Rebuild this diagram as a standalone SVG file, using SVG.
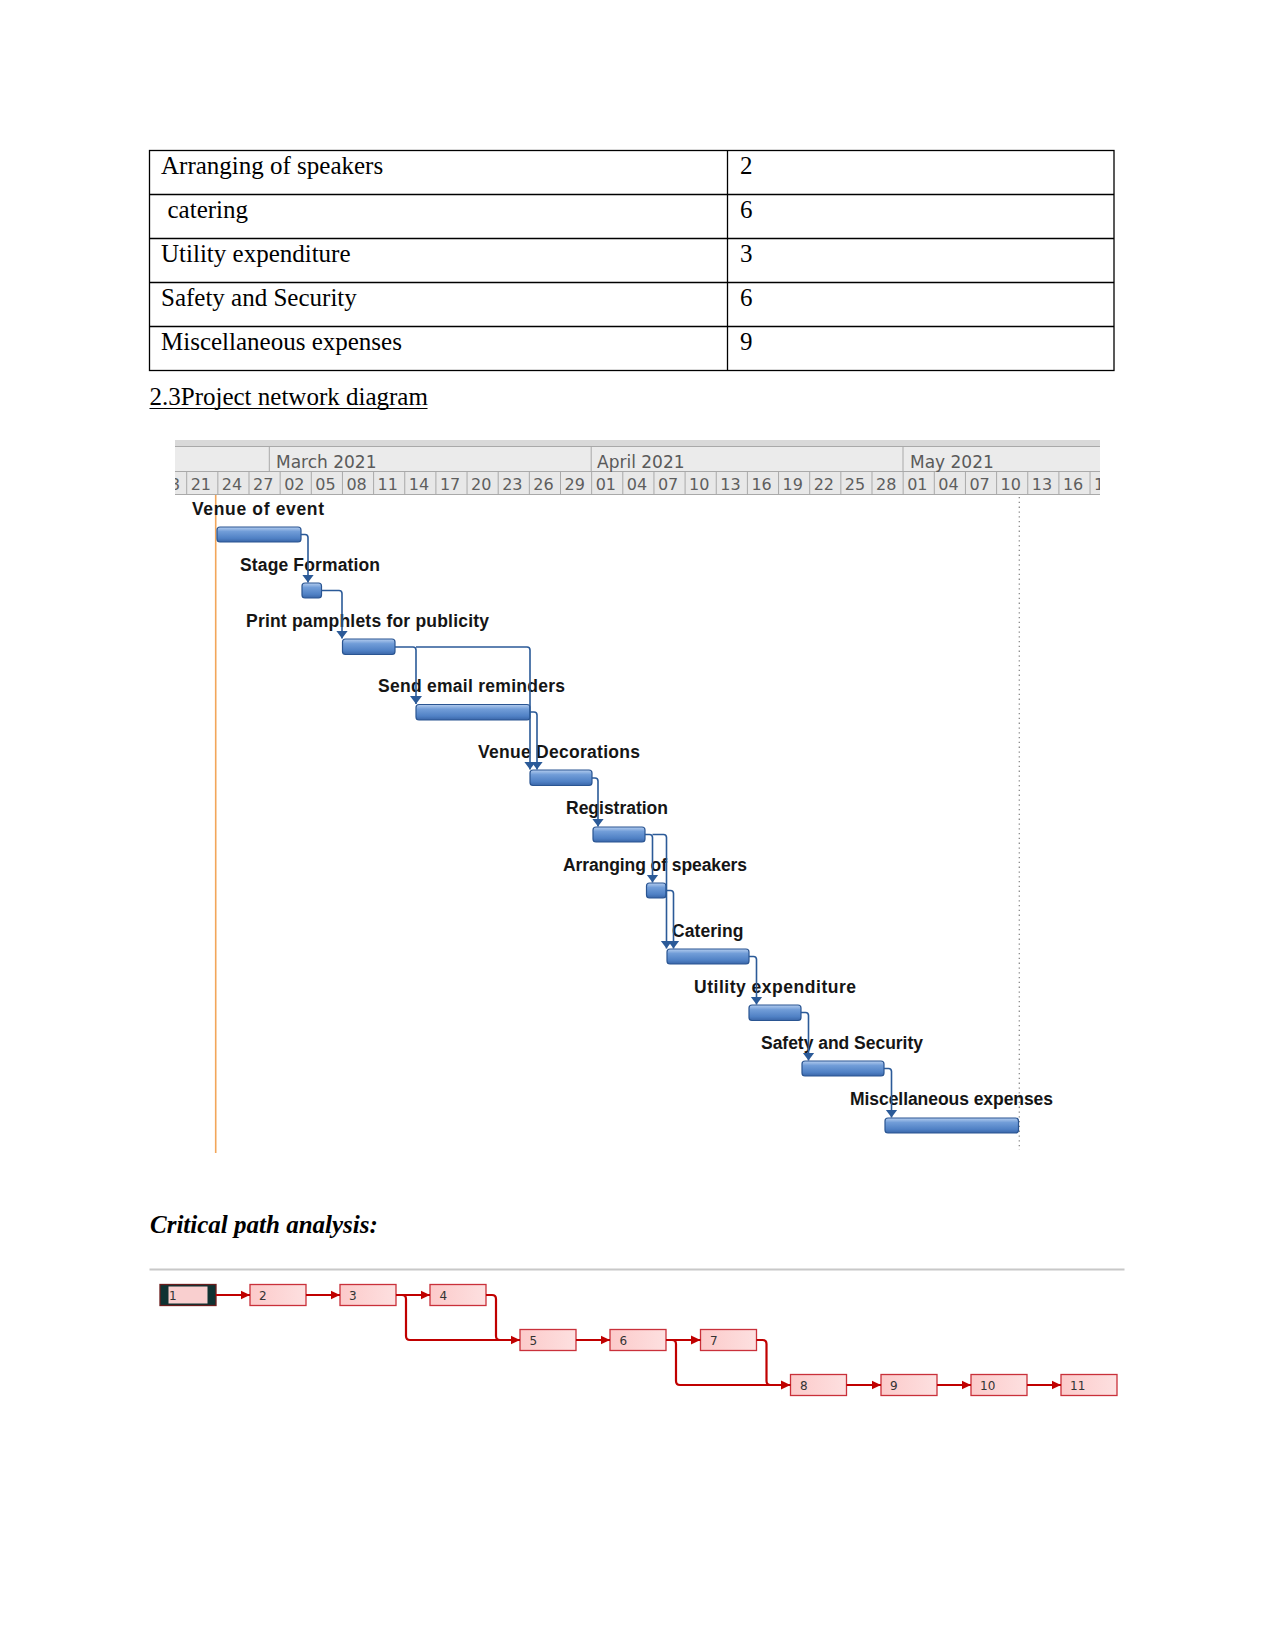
<svg xmlns="http://www.w3.org/2000/svg" width="1275" height="1651" viewBox="0 0 1275 1651">
<style>
.tt{font-family:"Liberation Serif","Times New Roman",serif;font-size:25px;fill:#000}
.tl{stroke:#000;stroke-width:1.3;fill:none}
.hd{font-family:"DejaVu Sans","Liberation Sans",sans-serif;font-size:16px;fill:#5e5e5e}
.hm{font-family:"DejaVu Sans","Liberation Sans",sans-serif;font-size:17px;fill:#5a5a5a}
.hl{stroke:#a9a9a9;stroke-width:1}
.gl{font-family:"Liberation Sans",Arial,sans-serif;font-size:17.5px;font-weight:bold;fill:#151515}
.bar{fill:url(#barG);stroke:#2a5592;stroke-width:1.2}
.gc{fill:none;stroke:#2b5a98;stroke-width:1.6}
.cb{fill:url(#boxG);stroke:#c9303a;stroke-width:1.3}
.cl{font-family:"DejaVu Sans","Liberation Sans",sans-serif;font-size:12px;fill:#333}
.cc{fill:none;stroke:#c00000;stroke-width:2.2}
</style>
<defs>
<linearGradient id="barG" x1="0" y1="0" x2="0" y2="1">
<stop offset="0" stop-color="#b4cdef"/>
<stop offset="0.3" stop-color="#719dd8"/>
<stop offset="0.75" stop-color="#5081c5"/>
<stop offset="1" stop-color="#3a66a8"/>
</linearGradient>
<linearGradient id="boxG" x1="0" y1="0" x2="1" y2="0">
<stop offset="0" stop-color="#fccaca"/>
<stop offset="1" stop-color="#fde0e0"/>
</linearGradient>
<marker id="ga" markerUnits="userSpaceOnUse" viewBox="0 -7 9 14" markerWidth="9" markerHeight="14" refX="8" refY="0" orient="auto">
<path d="M0,-6 L8,0 L0,6 z" fill="#2b5a98"/>
</marker>
<marker id="ra" markerUnits="userSpaceOnUse" viewBox="0 -5 10 10" markerWidth="10" markerHeight="10" refX="9.5" refY="0" orient="auto">
<path d="M0,-4.5 L9.5,0 L0,4.5 z" fill="#c00000"/>
</marker>
<clipPath id="hc"><rect x="175" y="438" width="925" height="60"/></clipPath>
</defs>
<rect width="1275" height="1651" fill="#fff"/>

<!-- Table -->
<g id="table">
<rect class="tl" x="149.5" y="150.5" width="964.5" height="220"/>
<line class="tl" x1="727.5" y1="150.5" x2="727.5" y2="370.5"/>
<line class="tl" x1="149.5" y1="194.5" x2="1114" y2="194.5"/>
<line class="tl" x1="149.5" y1="238.5" x2="1114" y2="238.5"/>
<line class="tl" x1="149.5" y1="282.5" x2="1114" y2="282.5"/>
<line class="tl" x1="149.5" y1="326.5" x2="1114" y2="326.5"/>
<text class="tt" x="161" y="173.5">Arranging of speakers</text>
<text class="tt" x="740" y="173.5">2</text>
<text class="tt" x="167.5" y="217.5">catering</text>
<text class="tt" x="740" y="217.5">6</text>
<text class="tt" x="161" y="261.5">Utility expenditure</text>
<text class="tt" x="740" y="261.5">3</text>
<text class="tt" x="161" y="305.5">Safety and Security</text>
<text class="tt" x="740" y="305.5">6</text>
<text class="tt" x="161" y="349.5">Miscellaneous expenses</text>
<text class="tt" x="740" y="349.5">9</text>
</g>

<g id="heading">
<text class="tt" x="149.5" y="405">2.3Project network diagram</text>
<line x1="149.5" y1="408.5" x2="427.5" y2="408.5" stroke="#000" stroke-width="1.2"/>
</g>

<!-- Gantt header -->
<g id="gantt-header" clip-path="url(#hc)">
<rect x="175" y="440" width="925" height="6" fill="#d9d9d9"/>
<rect x="175" y="446" width="925" height="25" fill="#ebebeb"/>
<rect x="175" y="471" width="925" height="23.5" fill="#e8e8e8"/>
<line class="hl" x1="175" y1="446.5" x2="1100" y2="446.5" stroke="#a0a0a0"/>
<line class="hl" x1="175" y1="471.5" x2="1100" y2="471.5"/>
<line class="hl" x1="175" y1="494.5" x2="1100" y2="494.5"/>
<line class="hl" x1="269.3" y1="446.5" x2="269.3" y2="471.5"/>
<line class="hl" x1="591.2" y1="446.5" x2="591.2" y2="471.5"/>
<line class="hl" x1="903" y1="446.5" x2="903" y2="471.5"/>
<text class="hm" x="276" y="467.5">March 2021</text>
<text class="hm" x="597" y="467.5">April 2021</text>
<text class="hm" x="910" y="467.5">May 2021</text>
<g>
<line class="hl" x1="186.7" y1="471.5" x2="186.7" y2="494.5"/>
<line class="hl" x1="217.85" y1="471.5" x2="217.85" y2="494.5"/>
<line class="hl" x1="249" y1="471.5" x2="249" y2="494.5"/>
<line class="hl" x1="280.15" y1="471.5" x2="280.15" y2="494.5"/>
<line class="hl" x1="311.3" y1="471.5" x2="311.3" y2="494.5"/>
<line class="hl" x1="342.45" y1="471.5" x2="342.45" y2="494.5"/>
<line class="hl" x1="373.6" y1="471.5" x2="373.6" y2="494.5"/>
<line class="hl" x1="404.75" y1="471.5" x2="404.75" y2="494.5"/>
<line class="hl" x1="435.9" y1="471.5" x2="435.9" y2="494.5"/>
<line class="hl" x1="467.05" y1="471.5" x2="467.05" y2="494.5"/>
<line class="hl" x1="498.2" y1="471.5" x2="498.2" y2="494.5"/>
<line class="hl" x1="529.35" y1="471.5" x2="529.35" y2="494.5"/>
<line class="hl" x1="560.5" y1="471.5" x2="560.5" y2="494.5"/>
<line class="hl" x1="591.65" y1="471.5" x2="591.65" y2="494.5"/>
<line class="hl" x1="622.8" y1="471.5" x2="622.8" y2="494.5"/>
<line class="hl" x1="653.95" y1="471.5" x2="653.95" y2="494.5"/>
<line class="hl" x1="685.1" y1="471.5" x2="685.1" y2="494.5"/>
<line class="hl" x1="716.25" y1="471.5" x2="716.25" y2="494.5"/>
<line class="hl" x1="747.4" y1="471.5" x2="747.4" y2="494.5"/>
<line class="hl" x1="778.55" y1="471.5" x2="778.55" y2="494.5"/>
<line class="hl" x1="809.7" y1="471.5" x2="809.7" y2="494.5"/>
<line class="hl" x1="840.85" y1="471.5" x2="840.85" y2="494.5"/>
<line class="hl" x1="872" y1="471.5" x2="872" y2="494.5"/>
<line class="hl" x1="903.15" y1="471.5" x2="903.15" y2="494.5"/>
<line class="hl" x1="934.3" y1="471.5" x2="934.3" y2="494.5"/>
<line class="hl" x1="965.45" y1="471.5" x2="965.45" y2="494.5"/>
<line class="hl" x1="996.6" y1="471.5" x2="996.6" y2="494.5"/>
<line class="hl" x1="1027.75" y1="471.5" x2="1027.75" y2="494.5"/>
<line class="hl" x1="1058.9" y1="471.5" x2="1058.9" y2="494.5"/>
<line class="hl" x1="1090.05" y1="471.5" x2="1090.05" y2="494.5"/>
</g>
<g>
<text class="hd" x="159.6" y="490">18</text>
<text class="hd" x="190.7" y="490">21</text>
<text class="hd" x="221.85" y="490">24</text>
<text class="hd" x="253" y="490">27</text>
<text class="hd" x="284.15" y="490">02</text>
<text class="hd" x="315.3" y="490">05</text>
<text class="hd" x="346.45" y="490">08</text>
<text class="hd" x="377.6" y="490">11</text>
<text class="hd" x="408.75" y="490">14</text>
<text class="hd" x="439.9" y="490">17</text>
<text class="hd" x="471.05" y="490">20</text>
<text class="hd" x="502.2" y="490">23</text>
<text class="hd" x="533.35" y="490">26</text>
<text class="hd" x="564.5" y="490">29</text>
<text class="hd" x="595.65" y="490">01</text>
<text class="hd" x="626.8" y="490">04</text>
<text class="hd" x="657.95" y="490">07</text>
<text class="hd" x="689.1" y="490">10</text>
<text class="hd" x="720.25" y="490">13</text>
<text class="hd" x="751.4" y="490">16</text>
<text class="hd" x="782.55" y="490">19</text>
<text class="hd" x="813.7" y="490">22</text>
<text class="hd" x="844.85" y="490">25</text>
<text class="hd" x="876" y="490">28</text>
<text class="hd" x="907.15" y="490">01</text>
<text class="hd" x="938.3" y="490">04</text>
<text class="hd" x="969.45" y="490">07</text>
<text class="hd" x="1000.6" y="490">10</text>
<text class="hd" x="1031.75" y="490">13</text>
<text class="hd" x="1062.9" y="490">16</text>
<text class="hd" x="1094.05" y="490">19</text>
</g>
</g>

<!-- Gantt guide lines -->
<g id="gantt-guides">
<line x1="215.7" y1="495" x2="215.7" y2="1153" stroke="#f2a65a" stroke-width="1.6"/>
<line x1="1019.3" y1="497" x2="1019.3" y2="1150" stroke="#8a8a8a" stroke-width="1.3" stroke-dasharray="1.3 3.5"/>
</g>

<!-- Gantt tasks -->
<g id="task-venue"><text class="gl" x="192" y="515" textLength="132">Venue of event</text><rect class="bar" x="217" y="527" width="84" height="15" rx="3"/></g>
<g id="task-stage"><text class="gl" x="240" y="571" textLength="140">Stage Formation</text><rect class="bar" x="302" y="583" width="19.5" height="15" rx="3"/></g>
<g id="task-print"><text class="gl" x="246" y="626.5" textLength="243">Print pamphlets for publicity</text><rect class="bar" x="342.5" y="639" width="52.5" height="15.5" rx="3"/></g>
<g id="task-email"><text class="gl" x="378" y="692" textLength="187">Send email reminders</text><rect class="bar" x="416" y="704.5" width="114" height="15.5" rx="3"/></g>
<g id="task-decor"><text class="gl" x="478" y="758" textLength="162">Venue Decorations</text><rect class="bar" x="530" y="770" width="62" height="15.5" rx="3"/></g>
<g id="task-registration"><text class="gl" x="566" y="814" textLength="102">Registration</text><rect class="bar" x="593" y="827" width="52" height="15" rx="3"/></g>
<g id="task-speakers"><text class="gl" x="563" y="871" textLength="184">Arranging of speakers</text><rect class="bar" x="646.5" y="883" width="19.5" height="15" rx="3"/></g>
<g id="task-catering"><text class="gl" x="672" y="937" textLength="71.5">Catering</text><rect class="bar" x="667" y="949" width="82" height="15" rx="3"/></g>
<g id="task-utility"><text class="gl" x="694" y="993" textLength="162">Utility expenditure</text><rect class="bar" x="749" y="1005" width="52" height="15.5" rx="3"/></g>
<g id="task-safety"><text class="gl" x="761" y="1049" textLength="162">Safety and Security</text><rect class="bar" x="802" y="1061" width="82" height="15" rx="3"/></g>
<g id="task-misc"><text class="gl" x="850" y="1105" textLength="203">Miscellaneous expenses</text><rect class="bar" x="885" y="1118" width="133.5" height="15" rx="3"/></g>

<!-- Gantt connectors -->
<g id="gantt-connectors">
<path class="gc" marker-end="url(#ga)" d="M301,534.5 H305 Q308,534.5 308,537.5 V582.5"/>
<path class="gc" marker-end="url(#ga)" d="M321.5,590.5 H339 Q342,590.5 342,593.5 V638.5"/>
<path class="gc" marker-end="url(#ga)" d="M395,647 H413 Q416,647 416,650 V704"/>
<path class="gc" marker-end="url(#ga)" d="M416,647 H527 Q530,647 530,650 V769.5"/>
<path class="gc" marker-end="url(#ga)" d="M530,712 H534 Q537,712 537,715 V769.5"/>
<path class="gc" marker-end="url(#ga)" d="M592,778 H595 Q598,778 598,781 V826.5"/>
<path class="gc" marker-end="url(#ga)" d="M645,834.5 H649.5 Q652.5,834.5 652.5,837.5 V882.5"/>
<path class="gc" marker-end="url(#ga)" d="M652.5,834.5 H663.5 Q666.5,834.5 666.5,837.5 V948.5"/>
<path class="gc" marker-end="url(#ga)" d="M666,890.5 H670.5 Q673.5,890.5 673.5,893.5 V948.5"/>
<path class="gc" marker-end="url(#ga)" d="M749,956.5 H753.5 Q756.5,956.5 756.5,959.5 V1004.5"/>
<path class="gc" marker-end="url(#ga)" d="M801,1012.5 H805.5 Q808.5,1012.5 808.5,1015.5 V1060.5"/>
<path class="gc" marker-end="url(#ga)" d="M884,1068.5 H888.5 Q891.5,1068.5 891.5,1071.5 V1117.5"/>
</g>

<!-- Critical path -->
<g id="cp-heading">
<text x="150" y="1232.5" font-family="'Liberation Serif','Times New Roman',serif" font-size="25" font-weight="bold" font-style="italic" fill="#000">Critical path analysis:</text>
<line x1="149.5" y1="1269.5" x2="1124.5" y2="1269.5" stroke="#c8c8c8" stroke-width="2.2"/>
</g>

<g id="cp-1">
<rect x="160" y="1284.5" width="56" height="21" fill="#0f3232" stroke="#6a1c1c" stroke-width="1.3"/>
<rect x="168.5" y="1286.5" width="39" height="17" fill="#f9cfcf"/>
<text class="cl" x="169" y="1300">1</text>
</g>
<g id="cp-2"><rect class="cb" x="250" y="1284.5" width="56" height="21"/><text class="cl" x="259" y="1300">2</text></g>
<g id="cp-3"><rect class="cb" x="340" y="1284.5" width="56" height="21"/><text class="cl" x="349" y="1300">3</text></g>
<g id="cp-4"><rect class="cb" x="430" y="1284.5" width="56" height="21"/><text class="cl" x="439.5" y="1300">4</text></g>
<g id="cp-5"><rect class="cb" x="520" y="1329.5" width="56" height="21"/><text class="cl" x="529.5" y="1345">5</text></g>
<g id="cp-6"><rect class="cb" x="610" y="1329.5" width="56" height="21"/><text class="cl" x="619.5" y="1345">6</text></g>
<g id="cp-7"><rect class="cb" x="700.5" y="1329.5" width="56" height="21"/><text class="cl" x="710" y="1345">7</text></g>
<g id="cp-8"><rect class="cb" x="790.5" y="1374.5" width="56" height="21"/><text class="cl" x="800" y="1390">8</text></g>
<g id="cp-9"><rect class="cb" x="881" y="1374.5" width="56" height="21"/><text class="cl" x="890" y="1390">9</text></g>
<g id="cp-10"><rect class="cb" x="971" y="1374.5" width="56" height="21"/><text class="cl" x="980" y="1390">10</text></g>
<g id="cp-11"><rect class="cb" x="1061" y="1374.5" width="56" height="21"/><text class="cl" x="1070" y="1390">11</text></g>

<g id="cp-connectors">
<path class="cc" marker-end="url(#ra)" d="M216,1295 H250"/>
<path class="cc" marker-end="url(#ra)" d="M306,1295 H340"/>
<path class="cc" marker-end="url(#ra)" d="M396,1295 H430"/>
<path class="cc" marker-end="url(#ra)" d="M396,1295 H402 Q406,1295 406,1299 V1336 Q406,1340 410,1340 H520"/>
<path class="cc" d="M486,1295 H492 Q496,1295 496,1299 V1336 Q496,1340 500,1340"/>
<path class="cc" marker-end="url(#ra)" d="M576,1340 H610"/>
<path class="cc" marker-end="url(#ra)" d="M666,1340 H700.5"/>
<path class="cc" marker-end="url(#ra)" d="M666,1340 H672 Q676,1340 676,1344 V1381 Q676,1385 680,1385 H790.5"/>
<path class="cc" d="M756.5,1340 H762.5 Q766.5,1340 766.5,1344 V1381 Q766.5,1385 770.5,1385"/>
<path class="cc" marker-end="url(#ra)" d="M846.5,1385 H881"/>
<path class="cc" marker-end="url(#ra)" d="M937,1385 H971"/>
<path class="cc" marker-end="url(#ra)" d="M1027,1385 H1061"/>
</g>
</svg>
